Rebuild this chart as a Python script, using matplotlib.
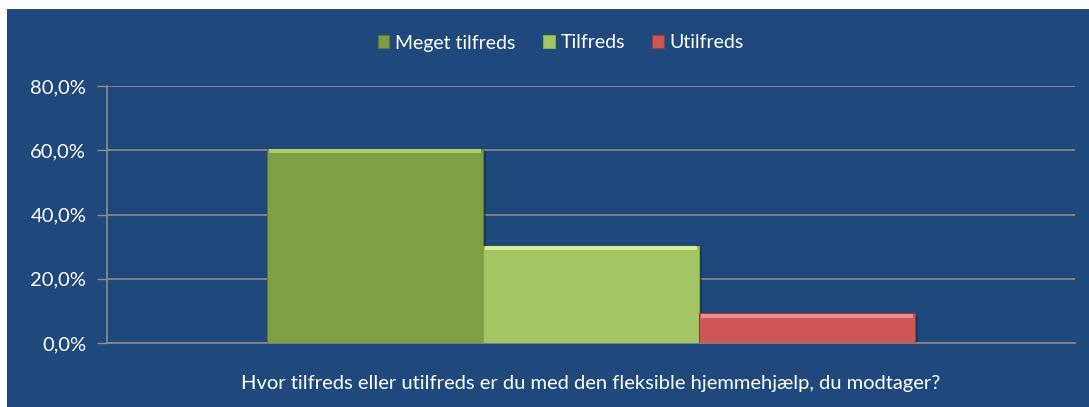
import numpy as np
import matplotlib.pyplot as plt
from matplotlib.patches import Rectangle

series = ["Meget tilfreds", "Tilfreds", "Utilfreds"]
values = [60.5, 30.3, 9.2]
colors = ["#7f9f45", "#a3c563", "#cc5956"]
edge_colors = ["#5f7a2e", "#86a84a", "#9e3a37"]
top_colors = ["#b5d272", "#dff59a", "#f59290"]
question = "Hvor tilfreds eller utilfreds er du med den fleksible hjemmehjælp, du modtager?"
yticks = [0, 20, 40, 60, 80]

bg = "#1f497d"
W, H = 1089, 407
fig = plt.figure(figsize=(W / 100, H / 100), dpi=100)
fig.patch.set_facecolor("white")
fig.patches.append(Rectangle((7 / W, 0), 1 - 7 / W, 1 - 9 / H, transform=fig.transFigure,
                             facecolor=bg, edgecolor="none", zorder=-10))

plt.rcParams["font.family"] = ["Lato", "DejaVu Sans"]

ax = fig.add_axes([107 / W, 1 - 343 / H, (1075 - 107) / W, (343 - 86) / H])
ax.set_zorder(1)
ax.set_facecolor("none")

bar_w = 216 / 968
x = (np.arange(len(values)) - 1) * bar_w
for xi, v, c, ec, tc, name in zip(x, values, colors, edge_colors, top_colors, series):
    # soft shadow
    ax.bar(xi + 0.003, v, width=bar_w, bottom=-0.8, color="#13304f", alpha=0.6, zorder=2)
    ax.bar(xi, v, width=bar_w, color=c, edgecolor=ec, linewidth=0.8, zorder=3, label=name)
    # bevel highlight on top
    ax.bar(xi, 1.4, width=bar_w * 0.985, bottom=v - 1.5, color=tc, alpha=0.9,
           linewidth=0, zorder=4)

ax.set_xlim(-0.5, 0.5)
ax.set_ylim(0, 80)
ax.set_yticks(yticks)
ax.set_yticklabels([f"{t:.1f}%".replace(".", ",") for t in yticks], color="white", fontsize=14.5)
ax.tick_params(axis="y", length=7, color="#8c8c8c", width=1, pad=8)
ax.set_xticks([])
ax.grid(axis="y", color="#8c8c8c", linewidth=1.2, zorder=1)
ax.set_axisbelow(True)
for s in ["top", "right"]:
    ax.spines[s].set_visible(False)
ax.spines["left"].set_color("#8c8c8c")
ax.spines["left"].set_linewidth(1.2)
ax.spines["bottom"].set_color("#8c8c8c")
ax.spines["bottom"].set_linewidth(1.2)

ax.set_xlabel(question, color="white", fontsize=14.5, labelpad=23)

leg = fig.legend(loc="center", bbox_to_anchor=(0.515, 1 - 43 / H), ncol=3, frameon=False,
                 fontsize=14, handlelength=0.6, handleheight=0.6, handletextpad=0.3,
                 columnspacing=1.4)
for t in leg.get_texts():
    t.set_color("white")

fig.savefig("out.png", dpi=100, facecolor=fig.get_facecolor())
